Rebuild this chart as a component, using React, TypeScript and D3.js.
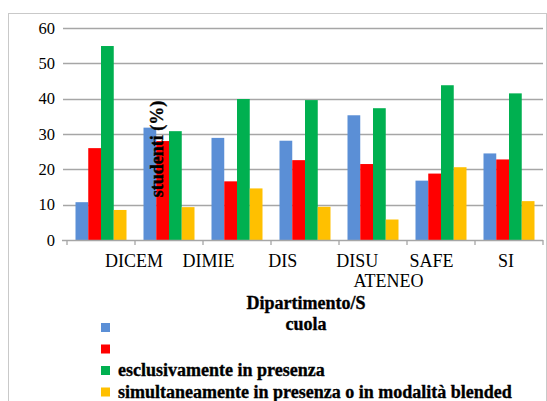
import React, { useEffect, useRef } from 'react'
import * as d3 from 'd3'

// categories, in bar order
const categories = ['DICEM', 'DIMIE', 'DIS', 'DISU', 'ATENEO', 'SAFE', 'SI']
// labels as printed on the first row under the axis, and the one pushed to a second row
const firstRowLabels = ['DICEM', 'DIMIE', 'DIS', 'DISU', 'SAFE', 'SI']
const secondRowLabel = 'ATENEO'

const seriesNames = ['', '', 'esclusivamente in presenza', 'simultaneamente in presenza o in modalità blended']
const seriesColors = ['#5B8FD6', '#FF0000', '#00B050', '#FFC000']

const serie1 = [10.7, 31.8, 28.9, 28.1, 35.3, 16.8, 24.5]
const serie2 = [26.0, 28.0, 16.6, 22.6, 21.5, 18.8, 22.8]
const serie3 = [54.9, 30.8, 39.9, 39.6, 37.3, 43.8, 41.5]
const serie4 = [8.5, 9.3, 14.6, 9.4, 5.8, 20.6, 11.0]

const yTicks = [0, 10, 20, 30, 40, 50, 60]

const App = () => {
  const svgRef = useRef<SVGSVGElement>(null)

  useEffect(() => {
    const W = 547
    const H = 401
    const left = 67
    const right = 543
    const top = 28
    const bottom = 240
    const font = '"Liberation Serif", "Times New Roman", serif'

    const svg = d3.select(svgRef.current).attr('width', W).attr('height', H)
    svg.selectAll('*').remove()

    // outer frame
    svg
      .append('rect')
      .attr('x', 8.5)
      .attr('y', 13.5)
      .attr('width', 538)
      .attr('height', 400)
      .attr('fill', 'white')
      .attr('stroke', '#C9C9C9')
      .attr('stroke-width', 1)

    const x0 = d3.scaleBand().domain(categories).range([left, right]).paddingInner(0.25).paddingOuter(0.125)
    const x1 = d3.scaleBand().domain(d3.range(4).map(String)).range([0, x0.bandwidth()])
    const y = d3.scaleLinear().domain([0, 60]).range([bottom, top])

    // gridlines
    svg
      .append('g')
      .selectAll('line')
      .data(yTicks.filter((t) => t > 0))
      .enter()
      .append('line')
      .attr('x1', left - 4)
      .attr('x2', right)
      .attr('y1', (d) => Math.round(y(d)) + 0.5)
      .attr('y2', (d) => Math.round(y(d)) + 0.5)
      .attr('stroke', '#A6A6A6')
      .attr('stroke-width', 1.3)

    // y tick labels
    svg
      .append('g')
      .selectAll('text')
      .data(yTicks)
      .enter()
      .append('text')
      .text((d) => d)
      .attr('x', 55)
      .attr('y', (d) => y(d) + 5.5)
      .attr('text-anchor', 'end')
      .style('font-family', font)
      .style('font-size', '16.5px')
      .attr('fill', '#000')

    // bars
    const series = [serie1, serie2, serie3, serie4]
    series.forEach((values, s) => {
      svg
        .append('g')
        .selectAll('rect')
        .data(values)
        .enter()
        .append('rect')
        .attr('x', (d, i) => (x0(categories[i]) as number) + (x1(String(s)) as number))
        .attr('y', (d) => y(d))
        .attr('width', x1.bandwidth())
        .attr('height', (d) => bottom - y(d))
        .attr('fill', seriesColors[s])
    })

    // x axis line and ticks
    svg
      .append('line')
      .attr('x1', left - 5)
      .attr('x2', right)
      .attr('y1', bottom + 0.5)
      .attr('y2', bottom + 0.5)
      .attr('stroke', '#A6A6A6')
      .attr('stroke-width', 1.3)

    const step = x0.step()
    svg
      .append('g')
      .selectAll('line')
      .data(d3.range(categories.length + 1))
      .enter()
      .append('line')
      .attr('x1', (d) => left + d * step)
      .attr('x2', (d) => left + d * step)
      .attr('y1', bottom)
      .attr('y2', bottom + 5)
      .attr('stroke', '#A6A6A6')
      .attr('stroke-width', 1.3)

    // category labels (as laid out in the original)
    const labelX = d3.scalePoint().domain(firstRowLabels).range([134, 506])
    svg
      .append('g')
      .selectAll('text')
      .data(firstRowLabels)
      .enter()
      .append('text')
      .text((d) => d)
      .attr('x', (d) => labelX(d) as number)
      .attr('y', 267)
      .attr('text-anchor', 'middle')
      .style('font-family', font)
      .style('font-size', '18px')

    svg
      .append('text')
      .text(secondRowLabel)
      .attr('x', ((labelX('DISU') as number) + (labelX('SAFE') as number)) / 2 - 6)
      .attr('y', 287)
      .attr('text-anchor', 'middle')
      .style('font-family', font)
      .style('font-size', '18px')

    // bold texts look heavier in the original
    const bold = (sel) =>
      sel
        .style('font-family', font)
        .style('font-size', '18px')
        .style('font-weight', 'bold')
        .attr('stroke', '#000')
        .attr('stroke-width', 0.35)

    // x axis title
    const title = svg.append('text').attr('text-anchor', 'middle').call(bold)
    title.append('tspan').attr('x', 306).attr('y', 309).text('Dipartimento/S')
    title.append('tspan').attr('x', 306).attr('y', 330).text('cuola')

    // y axis title
    svg
      .append('text')
      .text('studenti (%)')
      .attr('transform', 'translate(163, 149) rotate(-90)')
      .attr('text-anchor', 'middle')
      .call(bold)

    // legend
    const legend = svg
      .selectAll('.legend')
      .data(seriesNames)
      .enter()
      .append('g')
      .attr('class', 'legend')
      .attr('transform', (d, i) => `translate(101, ${323 + i * 21.5})`)

    legend
      .append('rect')
      .attr('width', 9)
      .attr('height', 9)
      .attr('fill', (d, i) => seriesColors[i])

    legend
      .append('text')
      .text((d) => d)
      .attr('x', 17)
      .attr('y', 10)
      .call(bold)
  }, [])

  return <svg ref={svgRef} style={{ position: 'absolute', left: 0, top: 0 }}></svg>
}

export default App
